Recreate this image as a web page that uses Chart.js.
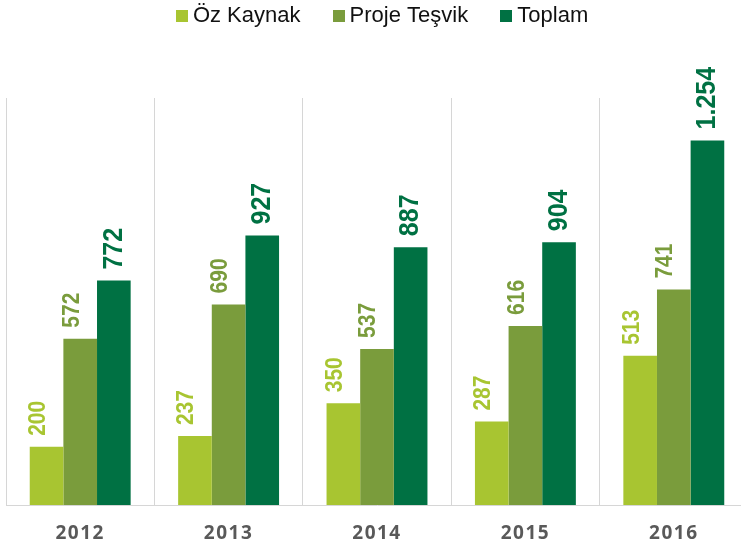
<!DOCTYPE html>
<html>
<head>
<meta charset="utf-8">
<script src="https://cdn.jsdelivr.net/npm/chart.js@4.4.1/dist/chart.umd.min.js"></script>
<style>
  html, body { margin: 0; padding: 0; background: #fff; overflow: hidden; }
  canvas { display: block; }
</style>
</head>
<body>
<canvas id="yatirimChart" width="748" height="549"></canvas>
<script>
var years = ['2012', '2013', '2014', '2015', '2016'];
var ozKaynak = [200, 237, 350, 287, 513];
var projeTesvik = [572, 690, 537, 616, 741];
var toplam = [772, 927, 887, 904, 1254];
var seriesNames = ['Öz Kaynak', 'Proje Teşvik', 'Toplam'];
var seriesColors = ['#a8c531', '#7a9c3c', '#007143'];

// value labels: font size and sideways nudge per series
var labelSizes = [21, 21, 25];
var labelShift = [-8, -8, 0];

function formatTr(v) {
  return String(v).replace(/\B(?=(\d{3})+(?!\d))/g, '.');
}

// small square swatches for the legend (sits close to its text)
var swatches = seriesColors.map(function (c) {
  var cv = document.createElement('canvas');
  cv.width = 12;
  cv.height = 12;
  var g = cv.getContext('2d');
  g.fillStyle = c;
  g.fillRect(0, 0, 12, 12);
  return cv;
});

var barLabels = {
  id: 'barLabels',
  afterDatasetsDraw: function (chart) {
    var ctx = chart.ctx;
    chart.data.datasets.forEach(function (ds, i) {
      chart.getDatasetMeta(i).data.forEach(function (bar, j) {
        ctx.save();
        ctx.translate(bar.x + labelShift[i], bar.y - 11);
        ctx.rotate(-Math.PI / 2);
        ctx.scale(1, 1.12);
        ctx.font = 'bold ' + labelSizes[i] + 'px "Liberation Sans", Arial, sans-serif';
        ctx.fillStyle = seriesColors[i];
        ctx.textAlign = 'left';
        ctx.textBaseline = 'middle';
        ctx.fillText(formatTr(ds.data[j]), 0, 0);
        ctx.restore();
      });
    });
  }
};

// keep legend near the top but reserve room above the plot
var legendTweak = {
  id: 'legendTweak',
  beforeInit: function (chart) {
    var lg = chart.legend;
    var fit = lg.fit;
    lg.fit = function () {
      fit.call(this);
      this.height = 98;
    };
  },
  afterLayout: function (chart) {
    chart.legend.left += 8;
    chart.legend.right += 8;
    chart.legend.top -= 33;

    var xs = chart.scales.x;
    if (!xs._spaced) {
      var drawLabels = xs.drawLabels;
      xs.drawLabels = function (area) {
        var c = this.ctx;
        c.save();
        c.letterSpacing = '1.5px';
        drawLabels.call(this, area);
        c.restore();
      };
      xs._spaced = true;
    }
  }
};

new Chart(document.getElementById('yatirimChart'), {
  type: 'bar',
  data: {
    labels: years,
    datasets: [
      { label: seriesNames[0], data: ozKaynak, backgroundColor: seriesColors[0] },
      { label: seriesNames[1], data: projeTesvik, backgroundColor: seriesColors[1] },
      { label: seriesNames[2], data: toplam, backgroundColor: seriesColors[2] }
    ]
  },
  options: {
    responsive: false,
    animation: false,
    layout: { padding: { left: 6, right: 0, top: 0, bottom: 0 } },
    datasets: { bar: { categoryPercentage: 0.68, barPercentage: 1 } },
    scales: {
      x: {
        afterFit: function (scale) { scale.height = 44; },
        grid: { offset: true, color: '#d6d6d6', lineWidth: 1, drawTicks: false },
        border: { color: '#d6d6d6' },
        ticks: {
          color: '#595959',
          padding: 17,
          font: { family: '"Open Sans", sans-serif', size: 19, weight: 'bold' }
        }
      },
      y: { display: false, min: 0, max: 1400 }
    },
    plugins: {
      legend: {
        position: 'top',
        labels: {
          usePointStyle: true,
          pointStyleWidth: 0.1,
          boxHeight: 12,
          padding: 38,
          color: '#111',
          font: { family: '"Liberation Sans", Arial, sans-serif', size: 22 },
          generateLabels: function (chart) {
            var items = Chart.defaults.plugins.legend.labels.generateLabels(chart);
            items.forEach(function (it, i) { it.pointStyle = swatches[i]; });
            return items;
          }
        }
      },
      tooltip: { enabled: false }
    }
  },
  plugins: [legendTweak, barLabels]
});
</script>
</body>
</html>
